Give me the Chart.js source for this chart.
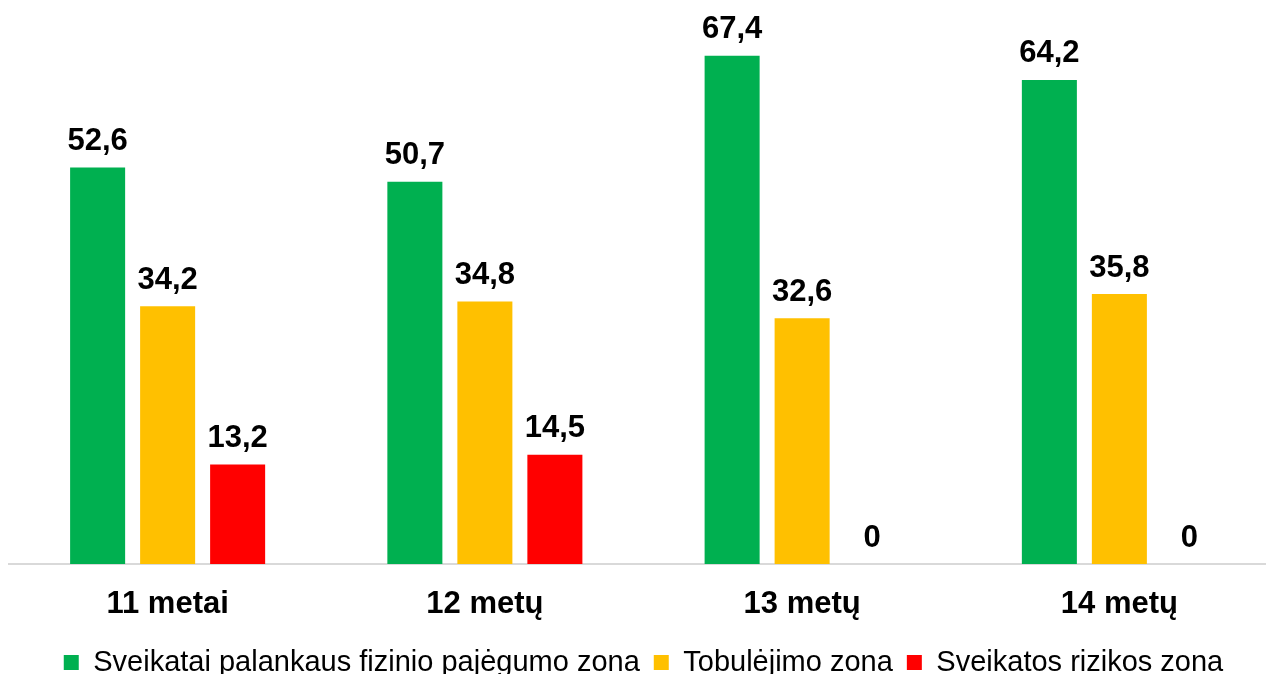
<!DOCTYPE html>
<html>
<head>
<meta charset="utf-8">
<script src="https://cdn.jsdelivr.net/npm/chart.js@4/dist/chart.umd.min.js"></script>
<style>
  html, body { margin: 0; padding: 0; background: #fff; overflow: hidden; }
  #wrap { width: 1278px; height: 674px; position: relative; }
</style>
</head>
<body>
<div id="wrap"><canvas id="c"></canvas></div>
<script>
const categories = ['11 metai', '12 metų', '13 metų', '14 metų'];
const seriesNames = ['Sveikatai palankaus fizinio pajėgumo zona', 'Tobulėjimo zona', 'Sveikatos rizikos zona'];
const greenValues = [52.6, 50.7, 67.4, 64.2];
const yellowValues = [34.2, 34.8, 32.6, 35.8];
const redValues = [13.2, 14.5, 0, 0];
const seriesColors = ['#00B050', '#FFC000', '#FF0000'];

const FONT = "'Liberation Sans', Arial, sans-serif";

const valueLabels = {
  id: 'valueLabels',
  afterDatasetsDraw(chart) {
    const ctx = chart.ctx;
    ctx.save();
    ctx.font = 'bold 31px ' + FONT;
    ctx.fillStyle = '#000';
    ctx.textAlign = 'center';
    ctx.textBaseline = 'alphabetic';
    chart.data.datasets.forEach((ds, i) => {
      const meta = chart.getDatasetMeta(i);
      meta.data.forEach((el, j) => {
        const v = ds.data[j];
        ctx.fillText(String(v).replace('.', ','), el.x, el.y - 17.5);
      });
    });
    ctx.restore();
  }
};

const legendShift = {
  id: 'legendShift',
  afterInit(chart) {
    const lg = chart.legend;
    if (!lg) return;
    const orig = lg.fit;
    lg.fit = function () { orig.call(this); this.height -= 13; };
  }
};

new Chart(document.getElementById('c'), {
  type: 'bar',
  data: {
    labels: categories,
    datasets: [
      { label: seriesNames[0], data: greenValues, backgroundColor: seriesColors[0] },
      { label: seriesNames[1], data: yellowValues, backgroundColor: seriesColors[1] },
      { label: seriesNames[2], data: redValues, backgroundColor: seriesColors[2] }
    ]
  },
  options: {
    responsive: true,
    maintainAspectRatio: false,
    animation: false,
    categoryPercentage: 0.662,
    barPercentage: 0.786,
    layout: { padding: { left: 9, right: 0, top: 0, bottom: 0 } },
    scales: {
      x: {
        grid: { display: false, drawTicks: false },
        border: { display: true, color: '#D9D9D9', width: 2 },
        ticks: { color: '#000', font: { family: FONT, size: 31, weight: 'bold' }, padding: 22, maxRotation: 0 },
        afterFit(scale) { scale.height = 70; }
      },
      y: {
        display: false,
        min: 0,
        max: 74.8
      }
    },
    plugins: {
      legend: {
        position: 'bottom',
        labels: {
          color: '#000',
          font: { family: FONT, size: 29 },
          boxWidth: 15,
          boxHeight: 15,
          padding: 14
        }
      },
      tooltip: { enabled: false }
    }
  },
  plugins: [valueLabels, legendShift]
});
</script>
</body>
</html>
